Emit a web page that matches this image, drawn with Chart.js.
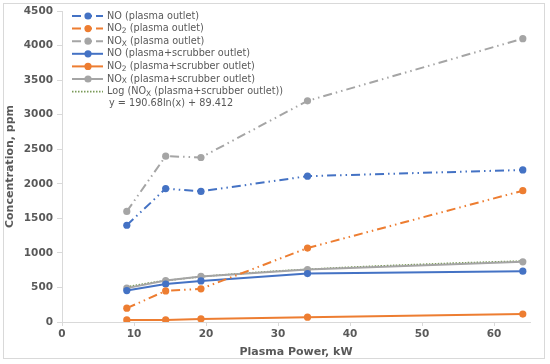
<!DOCTYPE html>
<html>
<head>
<meta charset="utf-8">
<script src="https://cdn.jsdelivr.net/npm/chart.js@4/dist/chart.umd.min.js"></script>
<style>
  html, body { margin: 0; padding: 0; background: #fff; }
  #wrap { width: 550px; height: 364px; }
</style>
</head>
<body>
<div id="wrap"><canvas id="chart" width="550" height="364"></canvas></div>
<script>
// values
const powerKW   = [9, 14.4, 19.3, 34.1, 64];
const noPlasma  = [1400, 1930, 1890, 2110, 2200];
const no2Plasma = [200, 450, 480, 1070, 1900];
const noxPlasma = [1600, 2400, 2380, 3200, 4100];
const noScrub   = [455, 550, 595, 700, 735];
const no2Scrub  = [30, 30, 45, 70, 115];
const noxScrub  = [490, 600, 660, 760, 870];
// log trendline of NOx (plasma+scrubber outlet), as drawn
const trendX = [9, 12, 15, 20, 25, 30, 35, 40, 45, 50, 55, 60, 64];
const trendY = [508, 563, 606, 661, 703, 738, 767, 793, 815, 835, 854, 870, 882];
const trendText = 'y = 190.68ln(x) + 89.412';

const xTicks = [0, 10, 20, 30, 40, 50, 60];

const blue = '#4472C4', orange = '#ED7D31', grey = '#A5A5A5', green = '#7A9A58';
const dashDot = [9, 4, 1.5, 4, 1.5, 4];
const textCol = '#595959';
const tickFont = { family: 'DejaVu Sans', size: 10.5, weight: 'bold' };

function pts(xs, ys) { return xs.map((x, i) => ({ x: x, y: ys[i] })); }

function series(label, ys, color, dash) {
  return {
    label: label, data: pts(powerKW, ys), showLine: true,
    borderColor: color, backgroundColor: color, borderWidth: 2,
    borderDash: dash, pointRadius: 3.6, pointBorderWidth: 0,
    pointBackgroundColor: color
  };
}

// label pieces: [text, isSubscript]
const legendParts = [
  [['NO (plasma outlet)', 0]],
  [['NO', 0], ['2', 1], [' (plasma outlet)', 0]],
  [['NO', 0], ['X', 1], [' (plasma outlet)', 0]],
  [['NO (plasma+scrubber outlet)', 0]],
  [['NO', 0], ['2', 1], [' (plasma+scrubber outlet)', 0]],
  [['NO', 0], ['X', 1], [' (plasma+scrubber outlet)', 0]],
  [['Log (NO', 0], ['X', 1], [' (plasma+scrubber outlet))', 0]]
];

const legendPlugin = {
  id: 'insideLegend',
  afterDraw(chart) {
    const ctx = chart.ctx;
    const x0 = 72, x1 = 103, xm = 88, tx = 107;
    let y = 16;
    const step = 12.6;
    chart.data.datasets.forEach((ds, i) => {
      ctx.save();
      ctx.strokeStyle = ds.borderColor;
      ctx.lineWidth = ds.borderWidth;
      ctx.setLineDash(ds.borderDash || []);
      ctx.beginPath(); ctx.moveTo(x0, y); ctx.lineTo(x1, y); ctx.stroke();
      ctx.setLineDash([]);
      if (ds.pointRadius > 0) {
        ctx.fillStyle = ds.pointBackgroundColor;
        ctx.beginPath(); ctx.arc(xm, y, ds.pointRadius, 0, Math.PI * 2); ctx.fill();
      }
      let x = tx;
      ctx.fillStyle = textCol;
      ctx.textBaseline = 'middle';
      legendParts[i].forEach(p => {
        ctx.font = p[1] ? '7.5px "DejaVu Sans"' : '9.7px "DejaVu Sans"';
        ctx.fillText(p[0], x, p[1] ? y + 2.5 : y);
        x += ctx.measureText(p[0]).width;
      });
      ctx.restore();
      y += step;
    });
    ctx.save();
    ctx.fillStyle = textCol;
    ctx.textBaseline = 'middle';
    ctx.font = '9.7px "DejaVu Sans"';
    ctx.fillText(trendText, 109, y - 0.5);
    // outer frame
    ctx.strokeStyle = '#D9D9D9';
    ctx.lineWidth = 1;
    ctx.strokeRect(3.5, 3.5, 541, 355);
    ctx.restore();
  }
};

new Chart(document.getElementById('chart'), {
  type: 'scatter',
  data: {
    datasets: [
      series('NO (plasma outlet)', noPlasma, blue, dashDot),
      series('NO2 (plasma outlet)', no2Plasma, orange, dashDot),
      series('NOx (plasma outlet)', noxPlasma, grey, dashDot),
      series('NO (plasma+scrubber outlet)', noScrub, blue, []),
      series('NO2 (plasma+scrubber outlet)', no2Scrub, orange, []),
      series('NOx (plasma+scrubber outlet)', noxScrub, grey, []),
      {
        label: 'Log (NOx (plasma+scrubber outlet))', data: pts(trendX, trendY),
        showLine: true, borderColor: green, borderWidth: 1.6, borderDash: [1.5, 1.5],
        pointRadius: 0, tension: 0.4
      }
    ]
  },
  options: {
    responsive: false,
    animation: false,
    layout: { padding: { left: 4, right: 20, top: 11, bottom: 5 } },
    plugins: { legend: { display: false }, tooltip: { enabled: false } },
    scales: {
      x: {
        type: 'linear', min: 0, max: 65,
        afterBuildTicks: s => { s.ticks = xTicks.map(v => ({ value: v })); },
        afterFit: s => { s.height = 37; },
        grid: { drawOnChartArea: false, color: '#D9D9D9', tickLength: 4 },
        border: { color: '#D9D9D9' },
        ticks: { color: textCol, font: tickFont, padding: 2, callback: v => String(v) },
        title: { display: true, text: 'Plasma Power, kW', color: textCol,
                 font: { family: 'DejaVu Sans', size: 11, weight: 'bold' }, padding: { top: 1, bottom: 0 } }
      },
      y: {
        min: 0, max: 4500,
        ticks: { stepSize: 500, color: textCol, font: tickFont, padding: 4, callback: v => String(v) },
        afterFit: s => { s.width = 58; },
        grid: { drawOnChartArea: false, color: '#D9D9D9', tickLength: 5 },
        border: { color: '#D9D9D9' },
        title: { display: true, text: 'Concentration, ppm', color: textCol,
                 font: { family: 'DejaVu Sans', size: 11, weight: 'bold' }, padding: { top: 0, bottom: 3 } }
      }
    }
  },
  plugins: [legendPlugin]
});
</script>
</body>
</html>
